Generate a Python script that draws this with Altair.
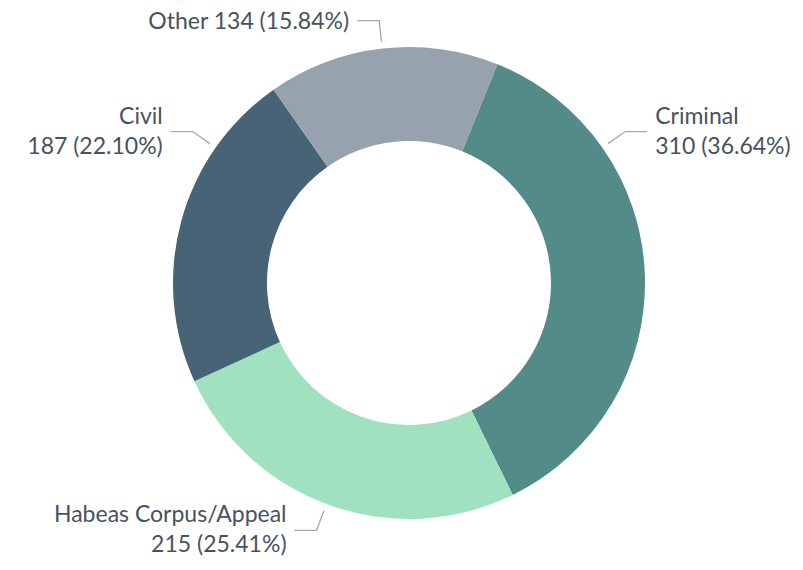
import math
import altair as alt
import pandas as pd

# ---- data ----
categories = ["Criminal", "Habeas Corpus/Appeal", "Civil", "Other"]
counts = [310, 215, 187, 134]
colors = ["#538b88", "#a0e2c0", "#476477", "#96a3ae"]

# ---- layout (pixels inside the view) ----
W, H = 787, 554
CX, CY = 401, 275
R_OUT, R_IN = 236, 142
START_DEG = 22
label_angles = [55, 200.5, 305, -6.5]   # where leader lines leave the ring
R1, R2, HLEN, GAP = 243, 264, 22, 8
FONT = "Lato"
FSIZE = 23
LH = 30
TEXT_COLOR = "#46535f"
LINE_COLOR = "#a3a9ad"

total = sum(counts)
pcts = [c / total * 100 for c in counts]

df = pd.DataFrame({
    "category": categories,
    "count": counts,
    "idx": list(range(len(categories))),
})

start = math.radians(START_DEG)
arc = alt.Chart(df).mark_arc(radius=R_OUT, innerRadius=R_IN, stroke=None).encode(
    theta=alt.Theta("count:Q", stack=True,
                    scale=alt.Scale(range=[start, start + 2 * math.pi])),
    order=alt.Order("idx:Q"),
    color=alt.Color("category:N", scale=alt.Scale(domain=categories, range=colors), legend=None),
    x=alt.value(CX),
    y=alt.value(CY),
)

line_rows, text_rows = [], []
for i, (cat, c, p, a) in enumerate(zip(categories, counts, pcts, label_angles)):
    ar = math.radians(a)
    s, co = math.sin(ar), -math.cos(ar)
    x1, y1 = CX + R1 * s, CY + R1 * co
    x2, y2 = CX + R2 * s, CY + R2 * co
    side = 1 if s > 0.05 else -1
    x3 = x2 + side * HLEN
    for k, (xx, yy) in enumerate([(x1, y1), (x2, y2), (x3, y2)]):
        line_rows.append({"category": cat, "k": k, "x": xx, "y": yy})
    pct = f"{p:.2f}%"
    if cat == "Other":
        txt = [f"{cat} {c} ({pct})"]
    else:
        txt = [cat, f"{c} ({pct})"]
    ty = max(y2 - (len(txt) - 1) * LH / 2, FSIZE * 0.62)
    text_rows.append({"category": cat, "x": x3 + side * GAP, "y": ty,
                      "text": txt, "side": "L" if side > 0 else "R"})

lines_df = pd.DataFrame(line_rows)
text_df = pd.DataFrame(text_rows)

xs = alt.Scale(domain=[0, W], nice=False, zero=False)
ys = alt.Scale(domain=[0, H], nice=False, zero=False, reverse=True)

lines = alt.Chart(lines_df).mark_line(color=LINE_COLOR, strokeWidth=1.3).encode(
    x=alt.X("x:Q", scale=xs, axis=None),
    y=alt.Y("y:Q", scale=ys, axis=None),
    detail="category:N",
    order="k:Q",
)

def text_layer(side, align):
    return alt.Chart(text_df).transform_filter(alt.datum.side == side).mark_text(
        align=align, baseline="middle", font=FONT, fontSize=FSIZE,
        color=TEXT_COLOR, lineHeight=LH,
    ).encode(
        x=alt.X("x:Q", scale=xs, axis=None),
        y=alt.Y("y:Q", scale=ys, axis=None),
        text="text",
    )

chart = alt.layer(arc, lines, text_layer("L", "left"), text_layer("R", "right")).properties(
    width=W, height=H, padding=0, autosize=alt.AutoSizeParams(type="none"),
).configure_view(stroke=None)

chart.save("out.html", embed_options={"renderer": "svg", "actions": False})
